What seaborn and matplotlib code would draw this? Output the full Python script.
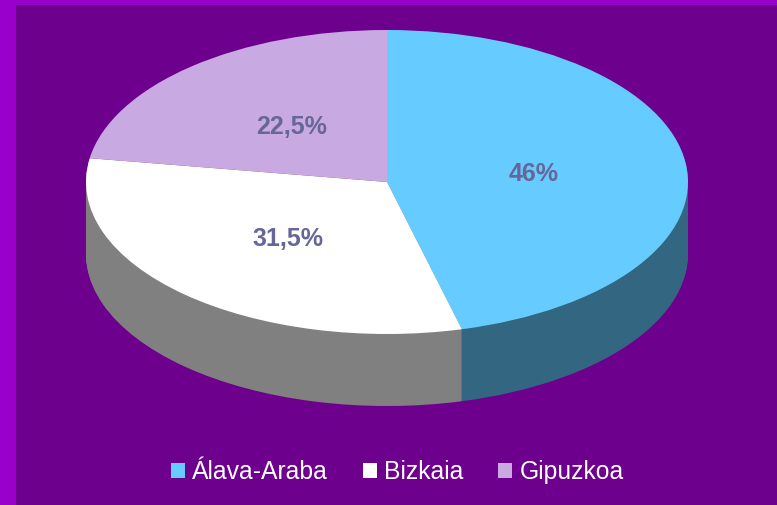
import numpy as np
import matplotlib
matplotlib.use("Agg")
import matplotlib.pyplot as plt
from matplotlib.patches import Rectangle
import seaborn as sns

# chart values
provinces = ["Álava-Araba", "Bizkaia", "Gipuzkoa"]
shares = [46, 31.5, 22.5]
share_labels = ["46%", "31,5%", "22,5%"]
slice_colors = ["#66CCFF", "#FFFFFF", "#C9A9E1"]

W, H = 777, 505
cx, cy = 387, 182   # pie centre in pixels
rx, ry = 301, 152   # ellipse radii in pixels
depth = 72          # height of the side wall in pixels

sns.set_theme(style="white")
plt.rcParams["font.family"] = ["Liberation Sans", "DejaVu Sans"]
plt.rcParams["text.kerning_factor"] = 6

fig = plt.figure(figsize=(W / 100, H / 100), dpi=100, facecolor="#9900CC")
fig.add_artist(Rectangle((16 / W, 0), 1 - 16 / W, 1 - 5 / H, transform=fig.transFigure,
                         facecolor="#6E008E", edgecolor="none", zorder=-1))
ax = fig.add_axes([0, 0, 1, 1])

top = sns.color_palette(slice_colors)
wall = [tuple(np.array(c) * 0.5) for c in top]

# side wall: same pie stacked downwards, one pixel at a time
for off in range(depth, 0, -1):
    ax.pie(shares, colors=wall, startangle=90, counterclock=False,
           center=(0, -off / ry), wedgeprops={"linewidth": 0})

labels_iter = iter(share_labels)
wedges, _, pct = ax.pie(shares, colors=top, startangle=90, counterclock=False,
                        autopct=lambda p: next(labels_iter), pctdistance=0.49,
                        wedgeprops={"linewidth": 0},
                        textprops={"color": "#666699", "fontsize": 18, "fontweight": "bold"})

# labels sit a little lower than the pie's own spot
for t in pct:
    x, y = t.get_position()
    t.set_position((x, y - 1.5 / ry))

ax.set_aspect("auto")
ax.set_xlim(-cx / rx, (W - cx) / rx)
ax.set_ylim((cy - H) / ry, cy / ry)

fig.legend(wedges, provinces, loc="center", bbox_to_anchor=(397.5 / W, 1 - 472 / H), ncol=3,
           frameon=False, fontsize=17.8, labelcolor="white", handlelength=0.57, handleheight=0.57,
           handletextpad=0.3, columnspacing=1.4)

fig.savefig("out.png", dpi=100, facecolor=fig.get_facecolor())
